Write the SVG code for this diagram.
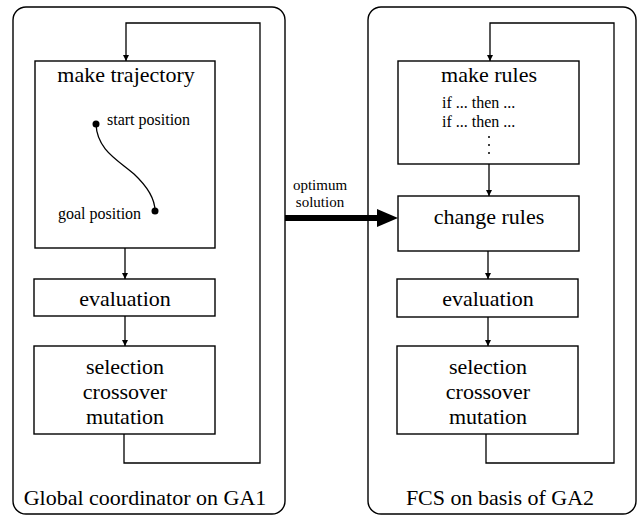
<svg xmlns="http://www.w3.org/2000/svg" width="643" height="518" viewBox="0 0 643 518">
<style>
.box{fill:#fff;stroke:#000;stroke-width:1.4}
.outer{fill:#fff;stroke:#000;stroke-width:1.4}
.ln{fill:none;stroke:#000;stroke-width:1.3}
.t{font-family:'Liberation Serif','Times New Roman',serif;font-size:22px;fill:#000;text-anchor:middle}
.s{font-family:'Liberation Serif','Times New Roman',serif;font-size:16px;fill:#000}
.lab{font-family:'Liberation Serif','Times New Roman',serif;font-size:15px;fill:#000;text-anchor:middle}
</style>
<defs>
<marker id="ah" viewBox="0 0 10 10" refX="10" refY="5" markerWidth="6" markerHeight="6" markerUnits="userSpaceOnUse" orient="auto">
<path d="M0,0 L10,5 L0,10 z" fill="#000"/>
</marker>
</defs>
<g id="outer-left">
<rect class="outer" x="13" y="7" width="272" height="507" rx="13"/>
<text class="t" x="145" y="505">Global coordinator on GA1</text>
</g>
<g id="outer-right">
<rect class="outer" x="368" y="7" width="268" height="507" rx="13"/>
<text class="t" x="500" y="505">FCS on basis of GA2</text>
</g>
<g id="make-trajectory">
<rect class="box" x="35" y="61" width="180" height="187"/>
<text class="t" x="126" y="82">make trajectory</text>
<circle cx="96" cy="124" r="3.5" fill="#000"/>
<circle cx="155" cy="211" r="3.5" fill="#000"/>
<path class="ln" d="M96,124 C97,150 118,160 134,174 C150,189 155,200 155,211"/>
<text class="s" x="107" y="125">start position</text>
<text class="s" x="58" y="219">goal position</text>
</g>
<g id="evaluation-left">
<rect class="box" x="34" y="279" width="181" height="37"/>
<text class="t" x="125" y="306">evaluation</text>
</g>
<g id="selection-left">
<rect class="box" x="34" y="346" width="181" height="88"/>
<text class="t" x="125" y="374">selection</text>
<text class="t" x="125" y="399">crossover</text>
<text class="t" x="125" y="424">mutation</text>
</g>
<g id="make-rules">
<rect class="box" x="398" y="61" width="181" height="103"/>
<text class="t" x="489" y="82">make rules</text>
<text class="s" x="442" y="108">if ... then ...</text>
<text class="s" x="442" y="127">if ... then ...</text>
<circle cx="489" cy="137" r="1" fill="#000"/>
<circle cx="489" cy="145" r="1" fill="#000"/>
<circle cx="489" cy="153" r="1" fill="#000"/>
</g>
<g id="change-rules">
<rect class="box" x="398" y="196" width="181" height="55"/>
<text class="t" x="489" y="224">change rules</text>
</g>
<g id="evaluation-right">
<rect class="box" x="397" y="279" width="181" height="38"/>
<text class="t" x="488" y="306">evaluation</text>
</g>
<g id="selection-right">
<rect class="box" x="397" y="346" width="181" height="88"/>
<text class="t" x="488" y="374">selection</text>
<text class="t" x="488" y="399">crossover</text>
<text class="t" x="488" y="424">mutation</text>
</g>
<g id="connectors">
<line class="ln" x1="125" y1="248" x2="125" y2="279" marker-end="url(#ah)"/>
<line class="ln" x1="125" y1="316" x2="125" y2="346" marker-end="url(#ah)"/>
<polyline class="ln" points="124,434 124,463 260,463 260,23 126,23 126,61" marker-end="url(#ah)"/>
<line class="ln" x1="489" y1="164" x2="489" y2="196" marker-end="url(#ah)"/>
<line class="ln" x1="488" y1="251" x2="488" y2="279" marker-end="url(#ah)"/>
<line class="ln" x1="488" y1="317" x2="488" y2="346" marker-end="url(#ah)"/>
<polyline class="ln" points="486,434 486,463 614,463 614,23 490,23 490,61" marker-end="url(#ah)"/>
<line x1="285" y1="218" x2="379" y2="218" stroke="#000" stroke-width="6"/>
<path d="M377,209 L398,218 L377,227 z" fill="#000"/>
<text class="lab" x="320" y="190">optimum</text>
<text class="lab" x="320" y="207">solution</text>
</g>
</svg>
